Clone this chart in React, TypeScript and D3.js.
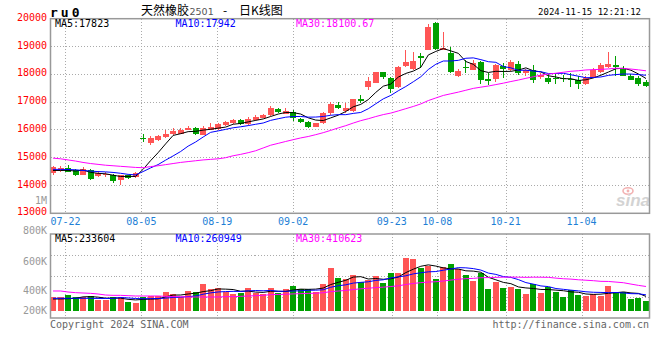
import React from 'react';
import * as d3 from 'd3';

const dates = [
  '07-18','07-19','07-22','07-23','07-24','07-25','07-26','07-29','07-30','07-31',
  '08-01','08-02','08-05','08-06','08-07','08-08','08-09','08-12','08-13','08-14',
  '08-15','08-16','08-19','08-20','08-21','08-22','08-23','08-26','08-27','08-28',
  '08-29','08-30','09-02','09-03','09-04','09-05','09-06','09-09','09-10','09-11',
  '09-12','09-13','09-18','09-19','09-20','09-23','09-24','09-25','09-26','09-27',
  '09-30','10-08','10-09','10-10','10-11','10-14','10-15','10-16','10-17','10-18',
  '10-21','10-22','10-23','10-24','10-25','10-28','10-29','10-30','10-31','11-01',
  '11-04','11-05','11-06','11-07','11-08','11-11','11-12','11-13','11-14','11-15'
];

const open = [
  14454,14573,14621,14573,14395,14573,14335,14383,14383,14192,
  14360,14288,15720,15537,15620,15728,15846,15870,16001,16061,
  15823,16013,16037,16168,16239,16346,16227,16358,16442,16537,
  16751,16584,16656,16382,16287,16120,16239,16596,16906,16692,
  16680,17096,17537,17692,18096,17870,17537,18287,18192,18644,
  18882,19834,18882,18775,17930,18275,18168,18430,17846,17834,
  18311,18144,18382,18049,18168,17906,17882,17870,17882,17834,
  17810,17668,17882,18084,18263,18322,18227,17953,17882,17739
];
const high = [
  14716,14716,14752,14590,14657,14597,14514,14478,14418,14394,
  14380,14478,15847,15787,15823,15990,16085,16060,16140,16090,
  16140,16240,16240,16320,16400,16380,16460,16537,16585,16846,
  16799,16775,16700,16420,16320,16260,16656,17001,17001,16954,
  17120,17240,17906,18096,18100,17890,18287,18882,18787,18763,
  19799,19894,19537,18977,18203,18501,18501,18465,18049,18370,
  18406,18525,18489,18203,18346,18049,18025,18025,17989,18049,
  17929,17929,18227,18406,18787,18644,18287,18025,17929,17810
];
const low = [
  14360,14502,14480,14335,14360,14204,14300,14323,14097,14026,
  14240,14260,15549,15466,15600,15700,15830,15840,15980,15800,
  15800,15990,16010,16140,16200,16180,16190,16320,16420,16500,
  16608,16560,16322,16263,16072,16100,16203,16549,16740,16620,
  16656,16977,17430,17680,17834,17335,17513,18263,18168,18227,
  18858,18882,18870,18049,17906,18037,18144,17656,17632,17727,
  17870,18108,17989,17930,17692,17834,17644,17644,17727,17549,
  17477,17632,17858,18049,18227,17953,17929,17787,17572,17537
];
const close = [
  14656,14633,14502,14395,14597,14240,14454,14418,14145,14360,
  14264,14442,15690,15716,15787,15846,15966,16001,16085,15846,
  16061,16121,16204,16275,16358,16204,16394,16477,16537,16799,
  16644,16680,16442,16287,16120,16239,16596,16918,16775,16775,
  17096,17025,17775,18072,17894,17477,18275,18442,18489,18572,
  19703,18906,18954,18073,18132,18227,18406,17811,17751,18346,
  18192,18430,18049,18144,17811,17989,17739,17834,17834,17810,
  17668,17870,18168,18322,18382,18263,17953,17811,17644,17572
];
const volume = [
  222000,222000,259700,222000,222000,243500,178600,178600,222000,222000,
  146100,129900,222000,243500,243500,308400,276000,227300,324700,308400,
  438300,351700,368000,308400,276000,297600,368000,286800,281400,368000,
  297600,351700,405800,351700,351700,313800,438300,692600,530300,514000,
  579000,470800,503200,568200,454500,616900,616900,860300,844100,692600,
  730500,519500,714300,763000,681800,584400,492400,622300,357100,476200,
  373400,389600,357100,276000,432900,292200,384200,308400,227300,340900,
  259700,243500,276000,248900,405800,308400,308400,194800,211000,162300
];

const ma5Lead = [14540, 14540, 14545, 14520];
const ma10Lead = [14580, 14580, 14575, 14565, 14540, 14520, 14500, 14490, 14470];
const ma30Lead = [
  14985,14960,14920,14880,14830,14790,14760,14730,14710,14690,
  14670,14650,14640,14680,14710,14750,14790,14830,14860,14890,
  14920,14940,14960,15000,15070,15120,15180,15250,15350
];
const vma5Lead = [195000, 195000, 200000, 205000];
const vma10Lead = [206000, 206000, 206000, 206000, 206000, 205000, 204000, 203000, 204000];
const vma30Lead = [
  324700,324700,308400,297600,292200,286800,276000,259700,254300,254300,
  248900,243500,243500,243500,243500,238100,232700,232700,227300,227300,
  227300,227300,227300,232700,232700,238100,243500,248900,254300
];

const priceTicks = [20000, 19000, 18000, 17000, 16000, 15000, 14000, 13000];
const volTicks = [800000, 600000, 400000, 200000];
const volTickLabels = ['800K', '600K', '400K', '200K'];
const dateTicks = ['07-22', '08-05', '08-19', '09-02', '09-23', '10-08', '10-21', '11-04'];
const maNames = ['MA5', 'MA10', 'MA30'];
const priceMAValues = ['17823', '17942', '18100.67'];
const volMAValues = ['233604', '260949', '410623'];

const RED = '#ff5555';
const GREEN = '#00a000';
const MA_COLORS = ['#000000', '#0000ff', '#ff00ff'];
const MONO = '"DejaVu Sans Mono", "Liberation Mono", monospace';
const CJK = '"Noto Sans CJK SC", "Noto Sans", sans-serif';

function movingAvg(values: number[], n: number, lead: number[]) {
  return values.map((_, i) => {
    if (i < n - 1) return lead[i];
    let s = 0;
    for (let k = i - n + 1; k <= i; k++) s += values[k];
    return s / n;
  });
}

export default function App() {
  const W = 660, H = 360;
  const L = 50.5, R = 649.5;
  const pTop = 18.7, pBot = 213.3;
  const vTop = 234, vBot = 318, vBase = 311;

  const xC = d3.scaleLinear().domain([0, dates.length - 1]).range([53, 646]);
  const xG = d3.scaleLinear().domain([0, dates.length - 1]).range([50.8, 650.3]);
  const y = d3.scaleLinear().domain([13000, 20000]).range([pBot, pTop]);
  const vy = d3.scaleLinear().domain([0, 1250000]).range([vBase, vTop]);
  const vLabelY = d3.scaleLinear().domain([200000, 400000, 600000, 800000]).range([310, 290, 261, 230.5]);

  const pMA = [movingAvg(close, 5, ma5Lead), movingAvg(close, 10, ma10Lead), movingAvg(close, 30, ma30Lead)];
  const vMA = [movingAvg(volume, 5, vma5Lead), movingAvg(volume, 10, vma10Lead), movingAvg(volume, 30, vma30Lead)];

  const pLine = d3.line<number>().x((_, i) => xC(i)).y(d => y(d));
  const vLine = d3.line<number>().x((_, i) => xC(i)).y(d => vy(d));

  const gridX = dateTicks.map(t => xG(dates.indexOf(t)));
  const vGridY = [1, 2, 3].map(k => vTop + ((vBot - vTop) * k) / 4);

  return (
    <svg width={W} height={H} style={{ position: 'absolute', left: 0, top: 0, background: '#fff' }}
      xmlns="http://www.w3.org/2000/svg">
      <rect x={0} y={0} width={W} height={H} fill="#fff" />

      {/* header */}
      <text x={50} y={12} dy="0.35em" fontFamily={MONO} fontWeight="bold" fontSize={13} letterSpacing={3} fill="#000">ru0</text>
      <text x={141} y={11} dy="0.35em" fontFamily={CJK} fontSize={12} fill="#000">天然橡胶</text>
      <text x={189.5} y={11.5} dy="0.35em" fontFamily='"DejaVu Sans", sans-serif' fontSize={9.5} fill="#555">2501</text>
      <text x={225} y={11} dy="0.35em" textAnchor="middle" fontFamily={CJK} fontSize={12} fill="#000">-</text>
      <text x={239} y={11} dy="0.35em" fontFamily={CJK} fontSize={12} fill="#000">日K线图</text>
      <text x={641} y={12} dy="0.35em" textAnchor="end" fontFamily={MONO} fontSize={9} fill="#000">2024-11-15 12:21:12</text>

      {/* grid */}
      <g stroke="#aaa" strokeDasharray="1,2" shapeRendering="crispEdges">
        {priceTicks.slice(1, -1).map(t => (
          <line key={'hp' + t} x1={L} x2={R} y1={y(t)} y2={y(t)} />
        ))}
        {gridX.map((gx, k) => (
          <line key={'vp' + k} x1={gx} x2={gx} y1={pTop} y2={pBot} />
        ))}
        {vGridY.map((gy, k) => (
          <line key={'hv' + k} x1={L} x2={R} y1={gy} y2={gy} />
        ))}
        {gridX.map((gx, k) => (
          <line key={'vv' + k} x1={gx} x2={gx} y1={vTop} y2={vBot + 3} />
        ))}
      </g>

      {/* axis labels */}
      <g fontFamily={MONO} fontSize={10} textAnchor="end">
        {priceTicks.map(t => (
          <text key={'pl' + t} x={47} y={y(t) - 1.5} dy="0.35em" fill="#ff0000">{t}</text>
        ))}
        <text x={47} y={200} dy="0.35em" fill="#999">1M</text>
        {volTicks.map((t, k) => (
          <text key={'vl' + t} x={47} y={vLabelY(t)} dy="0.35em" fill="#999">{volTickLabels[k]}</text>
        ))}
      </g>

      {/* date labels */}
      <g fontFamily={MONO} fontSize={10} textAnchor="middle" fill="#1e7fd6">
        {dateTicks.map((t, k) => (
          <text key={'dl' + t} x={gridX[k] - 0.5} y={221.7} dy="0.35em">{t}</text>
        ))}
      </g>

      {/* watermark */}
      <g opacity={0.9}>
        <ellipse cx={628} cy={191} rx={5} ry={3.2} fill="none" stroke="#f2aaaa" strokeWidth={1.6} />
        <circle cx={628} cy={191} r={1.4} fill="#f2aaaa" />
        <text x={650} y={206} textAnchor="end" fontFamily='"Liberation Sans", Arial, sans-serif'
          fontStyle="italic" fontWeight="bold" fontSize={17} fill="#cfcfcf">sina</text>
      </g>

      {/* candles */}
      <g shapeRendering="crispEdges">
        {close.map((c, i) => {
          const o = open[i];
          const col = c >= o ? RED : GREEN;
          const yt = y(Math.max(o, c));
          const yb = y(Math.min(o, c));
          return (
            <g key={'c' + i}>
              <line x1={xC(i)} x2={xC(i)} y1={y(high[i])} y2={y(low[i])} stroke={col} strokeWidth={1} />
              <rect x={xC(i) - 3} y={yt} width={6} height={Math.max(1, yb - yt)} fill={col} />
            </g>
          );
        })}
      </g>

      {/* price MAs */}
      {pMA.map((s, k) => (
        <path key={'pm' + k} d={pLine(s) || ''} fill="none" stroke={MA_COLORS[k]} strokeWidth={1} />
      ))}

      {/* volume bars */}
      <g shapeRendering="crispEdges">
        {volume.map((v, i) => (
          <rect key={'v' + i} x={xC(i) - 3} y={vy(v)} width={6} height={vy(0) - vy(v)}
            fill={close[i] >= open[i] ? RED : GREEN} />
        ))}
      </g>
      {vMA.map((s, k) => (
        <path key={'vm' + k} d={vLine(s) || ''} fill="none" stroke={MA_COLORS[k]} strokeWidth={1} />
      ))}

      {/* panel borders */}
      <g fill="none" stroke="#999" strokeWidth={1.5}>
        <rect x={L} y={pTop} width={R - L} height={pBot - pTop} />
        <rect x={L} y={vTop} width={R - L} height={vBot - vTop} />
      </g>

      {/* MA legends */}
      <g fontFamily={MONO} fontSize={10}>
        {maNames.map((n, k) => (
          <text key={'pt' + k} x={[55, 175.5, 296][k]} y={23.7} dy="0.35em" fill={MA_COLORS[k]}>
            {n + ':' + priceMAValues[k]}
          </text>
        ))}
        {maNames.map((n, k) => (
          <text key={'vt' + k} x={[55, 175.5, 296][k]} y={238.3} dy="0.35em" fill={MA_COLORS[k]}>
            {n + ':' + volMAValues[k]}
          </text>
        ))}
      </g>

      {/* footer */}
      <text x={50} y={324} dy="0.35em" fontFamily={MONO} fontSize={10} fill="#666">Copyright 2024 SINA.COM</text>
      <text x={649} y={324} dy="0.35em" textAnchor="end" fontFamily={MONO} fontSize={10} fill="#666">http://finance.sina.com.cn</text>
    </svg>
  );
}
